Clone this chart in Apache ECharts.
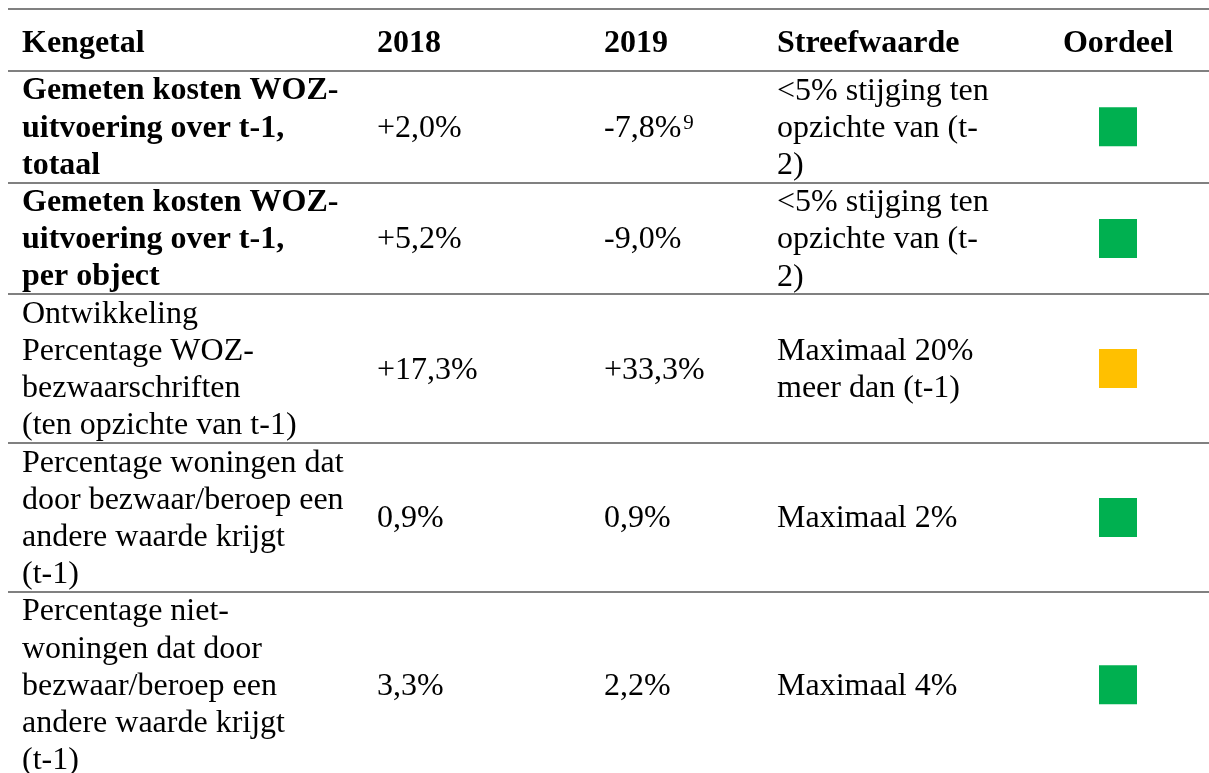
<!DOCTYPE html>
<html>
<head>
<meta charset="utf-8">
<script src="https://cdn.jsdelivr.net/npm/echarts@6/dist/echarts.min.js"></script>
<style>
  html, body { margin: 0; padding: 0; background: #fff; }
  #main { width: 1209px; height: 773px; }
</style>
</head>
<body>
<div id="main"></div>
<script>
// table content
const columns = ['Kengetal', '2018', '2019', 'Streefwaarde', 'Oordeel'];
const kengetal = [
    'Gemeten kosten WOZ-\nuitvoering over t-1,\ntotaal',
    'Gemeten kosten WOZ-\nuitvoering over t-1,\nper object',
    'Ontwikkeling\nPercentage WOZ-\nbezwaarschriften\n(ten opzichte van t-1)',
    'Percentage woningen dat\ndoor bezwaar/beroep een\nandere waarde krijgt\n(t-1)',
    'Percentage niet-\nwoningen dat door\nbezwaar/beroep een\nandere waarde krijgt\n(t-1)'
];
const vetgedrukt = [true, true, false, false, false];
const waarde2018 = ['+2,0%', '+5,2%', '+17,3%', '0,9%', '3,3%'];
const waarde2019 = ['-7,8%', '-9,0%', '+33,3%', '0,9%', '2,2%'];
const voetnoot2019 = ['9', '', '', '', ''];
const streefwaarde = [
    '<5% stijging ten\nopzichte van (t-\n2)',
    '<5% stijging ten\nopzichte van (t-\n2)',
    'Maximaal 20%\nmeer dan (t-1)',
    'Maximaal 2%',
    'Maximaal 4%'
];
const oordeel = ['groen', 'groen', 'oranje', 'groen', 'groen'];

const kleuren = { groen: '#00B050', oranje: '#FFC000' };

// layout
const W = 1209, H = 773;
const fontFamily = "'Liberation Serif', 'Times New Roman', serif";
const fontSize = 32;
const lineH = 37.2;
const tableTop = 9;
const headerBottom = 71;
const colX = [22, 377, 604, 777, 1118];

let boundaries = [tableTop, headerBottom];
let rowCenters = [];
let y = headerBottom;
kengetal.forEach(function (k) {
    let h = k.split('\n').length * lineH;
    rowCenters.push(y + h / 2);
    y += h;
    boundaries.push(y);
});
boundaries.pop(); // last row has no bottom rule
const headerCenter = (tableTop + headerBottom) / 2 + 4;
const textShift = 1.5; // text sits a bit lower than the row middle

const baseLabel = {
    show: true,
    position: 'right',
    distance: 0,
    color: '#000',
    opacity: 1,
    fontFamily: fontFamily,
    fontSize: fontSize,
    lineHeight: lineH,
    formatter: function (p) { return p.name; }
};

function textSeries(items, extra) {
    return {
        type: 'scatter',
        symbolSize: 0,
        silent: true,
        itemStyle: { opacity: 1 },
        data: items,
        label: Object.assign({}, baseLabel, extra || {})
    };
}

let headerItems = columns.map(function (c, i) {
    let item = { name: c, value: [colX[i], headerCenter] };
    if (i === 4) item.label = { position: 'inside' };
    return item;
});

let col1 = kengetal.map(function (k, i) {
    return {
        name: k,
        value: [colX[0], rowCenters[i] + textShift],
        label: { fontWeight: vetgedrukt[i] ? 'bold' : 'normal' }
    };
});
let col2 = waarde2018.map(function (v, i) {
    return { name: v, value: [colX[1], rowCenters[i] + textShift] };
});
let col3 = waarde2019.map(function (v, i) {
    let txt = '{v|' + v + '}' + (voetnoot2019[i] ? '{sup|' + voetnoot2019[i] + '}' : '');
    return { name: txt, value: [colX[2], rowCenters[i] + textShift] };
});
let col4 = streefwaarde.map(function (s, i) {
    return { name: s, value: [colX[3], rowCenters[i] + textShift] };
});
let squares = oordeel.map(function (o, i) {
    return { value: [colX[4], rowCenters[i]], itemStyle: { color: kleuren[o], opacity: 1 } };
});

let myChart = echarts.init(document.getElementById('main'));
let option = {
    animation: false,
    backgroundColor: '#fff',
    grid: { left: 8, right: 0, top: 0, bottom: 0 },
    xAxis: { type: 'value', min: 8, max: W, show: false },
    yAxis: { type: 'value', min: 0, max: H, inverse: true, show: false },
    series: [
        Object.assign(textSeries(headerItems, { fontWeight: 'bold' }), {
            markLine: {
                silent: true,
                symbol: ['none', 'none'],
                label: { show: false },
                lineStyle: { color: '#808080', width: 2, type: 'solid', opacity: 1 },
                data: boundaries.map(function (b) { return { yAxis: b }; })
            }
        }),
        textSeries(col1),
        textSeries(col2),
        textSeries(col3, {
            rich: {
                v: { fontFamily: fontFamily, fontSize: fontSize, color: '#000', lineHeight: lineH },
                sup: { fontFamily: fontFamily, fontSize: 21, color: '#000', verticalAlign: 'top', padding: [3, 0, 0, 2] }
            }
        }),
        textSeries(col4),
        {
            type: 'scatter',
            silent: true,
            symbol: 'rect',
            symbolSize: [38, 39],
            itemStyle: { opacity: 1 },
            data: squares
        }
    ]
};
option && myChart.setOption(option);
</script>
</body>
</html>
